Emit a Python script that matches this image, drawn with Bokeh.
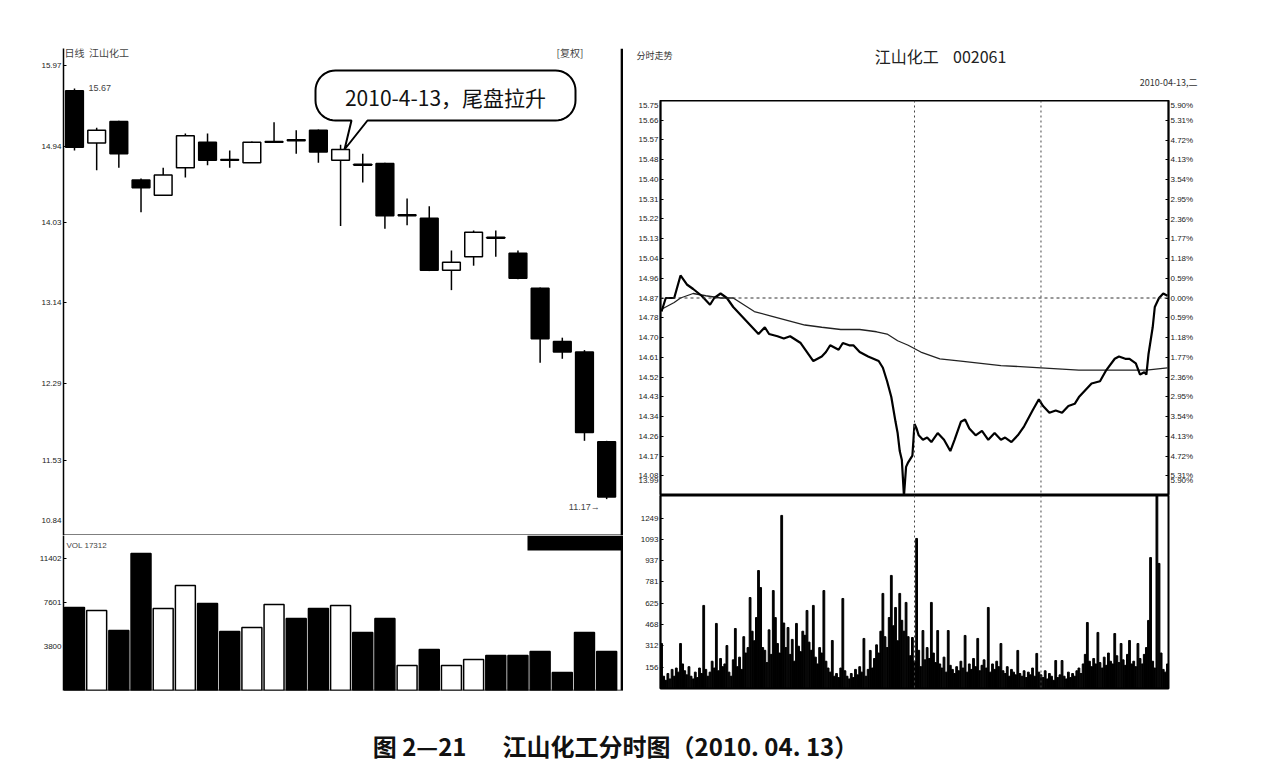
import numpy as np
from bokeh.plotting import figure
from bokeh.layouts import column, row
from bokeh.models import (Range1d, FixedTicker, NumeralTickFormatter, LinearAxis, Span,
                          Label, BoxAnnotation, CustomJSTickFormatter)
from bokeh.embed import file_html
from bokeh.resources import INLINE

# ---------------- data: daily candles (江山化工) ----------------
day_idx = list(range(1, 26))
opens  = [15.64, 14.98, 15.25, 14.53, 14.35, 14.68, 14.99, 14.78, 14.74, 14.99, 15.02, 15.14, 14.77,
          14.72, 14.73, 14.11, 14.08, 13.49, 13.64, 13.86, 13.68, 13.29, 12.72, 12.61, 11.71]
highs  = [15.67, 15.17, 15.26, 14.55, 14.68, 15.10, 15.10, 14.89, 15.00, 15.24, 15.14, 15.15, 14.96,
          14.85, 14.74, 14.31, 14.22, 13.71, 13.94, 13.94, 13.71, 13.30, 12.76, 12.63, 11.72]
lows   = [14.89, 14.65, 14.68, 14.15, 14.35, 14.56, 14.71, 14.68, 14.74, 14.98, 14.85, 14.74, 13.99,
          14.50, 13.96, 14.00, 13.48, 13.27, 13.54, 13.64, 13.39, 12.50, 12.54, 11.72, 11.17]
closes = [14.93, 15.14, 14.85, 14.44, 14.59, 15.07, 14.77, 14.77, 14.99, 15.00, 15.01, 14.87, 14.90,
          14.71, 14.11, 14.12, 13.49, 13.58, 13.92, 13.85, 13.40, 12.75, 12.61, 11.80, 11.19]
day_vol = [7169, 6910, 5183, 11834, 7083, 9070, 7515, 5096, 5442, 7429, 6219, 7083, 7342,
           5010, 6219, 2160, 3542, 2160, 2678, 3023, 3023, 3369, 1555, 5010, 3369]
day_price_ticks = [15.97, 14.94, 14.03, 13.14, 12.29, 11.53, 10.84]
day_vol_ticks = [3800, 7601, 11402]

# ---------------- data: intraday 2010-04-13 ----------------
prev_close = 14.87
min_t = [0, 2, 6, 9, 12, 15, 19, 23, 25, 28, 31, 34, 38, 42, 46, 49, 51, 55, 58, 61,
         66, 69, 72, 76, 78, 80, 84, 86, 89, 91, 94, 98, 103, 105, 107, 109, 111, 112, 113, 114,
         115, 116, 117, 119, 120, 121, 122, 124, 126, 128, 131, 134, 137, 139, 142, 144, 146, 149, 152, 155,
         158, 161, 163, 166, 169, 172, 176, 179, 181, 184, 187, 190, 193, 196, 198, 201, 204, 208, 211, 215,
         217, 220, 222, 225, 227, 229, 230, 231, 232, 233, 234, 236, 238, 240]
min_price = [14.81, 14.87, 14.87, 14.97, 14.93, 14.91, 14.88, 14.84, 14.87, 14.89, 14.87, 14.83, 14.79, 14.75, 14.71,
             14.74, 14.71, 14.70, 14.69, 14.70, 14.67, 14.63, 14.59, 14.61, 14.63, 14.66, 14.64, 14.67, 14.66, 14.66,
             14.63, 14.61, 14.59, 14.56, 14.50, 14.43, 14.32, 14.27, 14.19, 14.15, 13.99, 14.12, 14.14, 14.17, 14.31,
             14.29, 14.26, 14.24, 14.25, 14.23, 14.27, 14.24, 14.19, 14.24, 14.32, 14.33, 14.29, 14.26, 14.28, 14.24,
             14.27, 14.24, 14.25, 14.23, 14.26, 14.30, 14.37, 14.42, 14.39, 14.36, 14.37, 14.36, 14.39, 14.40, 14.43,
             14.46, 14.49, 14.50, 14.55, 14.60, 14.61, 14.60, 14.60, 14.58, 14.53, 14.54, 14.53, 14.62, 14.68, 14.74,
             14.83, 14.87, 14.89, 14.88]
avg_t = [0, 6, 9, 15, 21, 28, 34, 44, 52, 60, 68, 76, 85, 94, 102, 107, 112, 117, 123, 132, 142, 161, 180,
         198, 217, 230, 240]
avg_price = [14.82, 14.85, 14.87, 14.89, 14.88, 14.87, 14.87, 14.81, 14.79, 14.77, 14.75, 14.74, 14.73, 14.73,
             14.72, 14.71, 14.68, 14.66, 14.63, 14.60, 14.59, 14.57, 14.56, 14.55, 14.55, 14.55, 14.56]
min_vol = [330, 90, 60, 110, 70, 140, 90, 150, 120, 330,
           180, 130, 100, 160, 90, 70, 120, 80, 150, 110,
           609, 140, 90, 120, 200, 150, 477, 130, 220, 160,
           180, 315, 120, 90, 210, 440, 160, 230, 140, 380,
           260, 300, 667, 420, 350, 520, 865, 740, 300, 280,
           190, 430, 250, 718, 520, 330, 260, 1269, 480, 300,
           447, 250, 360, 200, 477, 310, 270, 420, 390, 572,
           340, 280, 609, 230, 180, 300, 260, 718, 200, 150,
           120, 352, 90, 110, 80, 150, 660, 130, 90, 70,
           110, 80, 140, 100, 160, 120, 367, 90, 140, 279,
           150, 220, 320, 260, 420, 697, 380, 300, 520, 829,
           460, 594, 350, 697, 500, 420, 631, 380, 240, 374,
           200, 1100, 280, 160, 425, 210, 300, 220, 631, 260,
           190, 425, 180, 150, 230, 120, 425, 170, 140, 110,
           160, 130, 200, 150, 389, 120, 180, 140, 220, 160,
           367, 130, 170, 210, 150, 594, 120, 180, 140, 200,
           160, 330, 130, 110, 160, 90, 140, 120, 100, 279,
           110, 90, 130, 80, 120, 100, 150, 90, 257, 120,
           100, 80, 130, 70, 110, 90, 60, 205, 80, 100,
           205, 90, 70, 120, 80, 110, 90, 130, 150, 110,
           180, 250, 484, 200, 160, 220, 180, 411, 190, 150,
           230, 170, 260, 200, 180, 403, 240, 190, 330, 210,
           170, 250, 352, 180, 200, 160, 330, 220, 180, 250,
           300, 499, 960, 200, 150, 1415, 917, 260, 140, 120,
           180]
price_ticks = [15.747, 15.659, 15.572, 15.484, 15.396, 15.309, 15.221, 15.133, 15.045, 14.958, 14.870,
               14.782, 14.695, 14.607, 14.519, 14.432, 14.344, 14.256, 14.168, 14.081, 13.993]
pct_ticks = [5.90, 5.31, 4.72, 4.13, 3.54, 2.95, 2.36, 1.77, 1.18, 0.59, 0.0,
             -0.59, -1.18, -1.77, -2.36, -2.95, -3.54, -4.13, -4.72, -5.31, -5.90]
min_vol_ticks = [156, 312, 468, 625, 781, 937, 1093, 1249]
session_marks = [120, 180]

# ---------------- styling helpers ----------------
TICK_FONT = "Liberation Sans"
CJK = "Noto Sans CJK SC"
NB = "\u00a0"


def style_axis(ax, ticks, fmt=None, size="8px"):
    ax.ticker = FixedTicker(ticks=ticks)
    if fmt is not None:
        ax.formatter = fmt
    ax.major_label_text_font_size = size
    ax.major_label_text_font = TICK_FONT
    ax.major_label_text_color = "#222222"
    ax.major_label_standoff = 2
    ax.axis_line_width = 1.5
    ax.axis_line_color = "black"
    ax.major_tick_in = 3
    ax.major_tick_out = 0
    ax.minor_tick_line_color = None


def base_fig(**kw):
    p = figure(toolbar_location=None, output_backend="svg", x_axis_location=None, **kw)
    p.grid.visible = False
    p.background_fill_color = "white"
    p.border_fill_color = "white"
    return p


def blank_fig(w, h):
    p = figure(width=w, height=h, x_range=Range1d(0, 1), y_range=Range1d(0, 1),
               toolbar_location=None, output_backend="svg", x_axis_location=None,
               y_axis_location=None, min_border=0)
    p.outline_line_color = None
    p.grid.visible = False
    if "frame_align" in p.properties():
        p.frame_align = False
    return p


# the lowest tick sits on the panel edge: lift its label by adding an empty second line
def edge_fmt(limit, body, cmp="<="):
    return CustomJSTickFormatter(
        code="var s = %s; return (tick %s %r) ? s + '\\n ' : s;" % (body, cmp, limit))

# ---------------- left: daily candles ----------------
X0, X1 = 0.504, 25.76
YB, YT = 10.84, 16.195
FW, FH = 560, 487

p1 = base_fig(width=623, height=535, x_range=Range1d(X0, X1), y_range=Range1d(YB, YT),
              y_axis_type="log", min_border_left=63, min_border_right=0,
              min_border_top=48, min_border_bottom=0)
p1.outline_line_color = None
style_axis(p1.yaxis[0], day_price_ticks, edge_fmt(YB + 0.005, "tick.toFixed(2)"))

up = [c >= o for o, c in zip(opens, closes)]
body_fill = ["white" if u else "black" for u in up]
p1.segment(x0=day_idx, y0=lows, x1=day_idx, y1=highs, line_color="black", line_width=1.5)
p1.vbar(x=day_idx, width=0.8, top=[max(o, c) for o, c in zip(opens, closes)],
        bottom=[min(o, c) for o, c in zip(opens, closes)],
        fill_color=body_fill, line_color="black", line_width=1.5)

p1.add_layout(Span(location=25.70, dimension="height", line_color="black", line_width=3))
p1.add_layout(Span(location=YB, dimension="width", line_color="black", line_width=2))

PXX = FW / (X1 - X0)
K = np.log(YT / YB) / FH


def to_data(xw, yw):
    xw = np.asarray(xw, dtype=float)
    yw = np.asarray(yw, dtype=float)
    return X0 + (xw - 63) / PXX, YT * np.exp(-(yw - 48) * K)


# speech bubble pointing to the 2010-04-13 candle
L, R, T, B, r = 315, 575, 70, 120, 20
pts = []
def arc(cx, cy, a0, a1):
    a = np.linspace(a0, a1, 12)
    return list(zip(cx + r * np.cos(a), cy + r * np.sin(a)))
pts += arc(R - r, T + r, -np.pi / 2, 0)
pts += arc(R - r, B - r, 0, np.pi / 2)
pts += [(367, B), (344, 149), (351, B)]
pts += arc(L + r, B - r, np.pi / 2, np.pi)
pts += arc(L + r, T + r, np.pi, 1.5 * np.pi)
bx, by = to_data([q[0] for q in pts], [q[1] for q in pts])
p1.patch(list(bx), list(by), fill_color="white", line_color="black", line_width=2)
tx, ty = to_data([445], [96])
p1.add_layout(Label(x=float(tx[0]), y=float(ty[0]), text="2010-4-13，尾盘拉升",
                    text_align="center", text_baseline="middle", text_font=CJK,
                    text_font_size="21px", text_color="#111111"))

p1.add_layout(Label(x=day_idx[0], y=highs[0], x_offset=14, text=f"{highs[0]:.2f}",
                    text_baseline="middle", text_font=TICK_FONT, text_font_size="9px"))
p1.add_layout(Label(x=day_idx[-1], y=lows[-1], x_offset=-7, y_offset=-8, text=f"{lows[-1]:.2f}→",
                    text_align="right", text_baseline="middle", text_font=TICK_FONT,
                    text_font_size="9px"))
p1.add_layout(Label(x=1, y=483, x_units="screen", y_units="screen", text=f"日线{NB}{NB}江山化工",
                    text_baseline="middle", text_font=CJK, text_font_size="10px"))
p1.add_layout(Label(x=493, y=483, x_units="screen", y_units="screen", text="[复权]",
                    text_baseline="middle", text_font=CJK, text_font_size="10px"))

# ---------------- left: daily volume ----------------
VT = 13389
p2 = base_fig(width=623, height=173, x_range=p1.x_range, y_range=Range1d(0, VT),
              min_border_left=63, min_border_right=0, min_border_top=0, min_border_bottom=18)
p2.outline_line_color = None
style_axis(p2.yaxis[0], day_vol_ticks, NumeralTickFormatter(format="0"))
p2.vbar(x=day_idx, width=0.9, top=day_vol, bottom=0, fill_color=body_fill,
        line_color="black", line_width=1.5)
p2.add_layout(Span(location=25.70, dimension="height", line_color="black", line_width=3))
p2.add_layout(Span(location=0, dimension="width", line_color="black", line_width=1.5))
p2.add_layout(BoxAnnotation(left=21.43, right=X1, bottom=12093, top=VT, fill_color="black",
                            fill_alpha=1.0, line_color=None))
p2.add_layout(Label(x=3, y=145, x_units="screen", y_units="screen", text="VOL 17312",
                    text_baseline="middle", text_font=TICK_FONT, text_font_size="8px"))

# ---------------- right: header ----------------
p3h = blank_fig(649, 100)
p3h.add_layout(Label(x=13, y=45, x_units="screen", y_units="screen", text="分时走势",
                     text_baseline="middle", text_font=CJK, text_font_size="9px",
                     text_color="#333333"))
p3h.add_layout(Label(x=317, y=45, x_units="screen", y_units="screen",
                     text=f"江山化工{NB}{NB}{NB}{NB}002061",
                     text_align="center", text_baseline="middle", text_font=CJK,
                     text_font_size="16px", text_color="#222222"))
p3h.add_layout(Label(x=574, y=18, x_units="screen", y_units="screen", text="2010-04-13,二",
                     text_align="right", text_baseline="middle", text_font=CJK,
                     text_font_size="9px", text_color="#333333"))

# ---------------- right: intraday price ----------------
PB, PT = 13.9927, 15.7473
p3 = base_fig(width=649, height=395, x_range=Range1d(-0.5, 240.5), y_range=Range1d(PB, PT),
              min_border_left=37, min_border_right=104, min_border_top=0, min_border_bottom=0)
p3.outline_line_color = "black"
p3.outline_line_width = 2
style_axis(p3.yaxis[0], price_ticks, edge_fmt(price_ticks[-1] + 0.002, "tick.toFixed(2)", "<"))
p3.extra_y_ranges = {"pct": Range1d(-5.90, 5.90)}
pct_axis = LinearAxis(y_range_name="pct")
style_axis(pct_axis, pct_ticks, edge_fmt(-5.895, "Math.abs(tick).toFixed(2) + '%'"))
p3.add_layout(pct_axis, "right")

for m in session_marks:
    p3.add_layout(Span(location=m, dimension="height", line_color="#444444",
                       line_width=1, line_dash="2 3"))
p3.add_layout(Span(location=prev_close, dimension="width", line_color="#333333",
                   line_width=1, line_dash="3 3"))
p3.line(avg_t, avg_price, line_color="#222222", line_width=1.3)
p3.line(min_t, min_price, line_color="black", line_width=2.2)

# ---------------- right: intraday volume ----------------
p4 = base_fig(width=649, height=213, x_range=p3.x_range, y_range=Range1d(0, 1415),
              min_border_left=37, min_border_right=104, min_border_top=0, min_border_bottom=20)
p4.outline_line_color = "black"
p4.outline_line_width = 2
style_axis(p4.yaxis[0], min_vol_ticks, NumeralTickFormatter(format="0"))
for m in session_marks:
    p4.add_layout(Span(location=m, dimension="height", line_color="#444444",
                       line_width=1, line_dash="2 3"))
p4.vbar(x=list(range(len(min_vol))), width=0.85, top=min_vol, bottom=0, color="black")

# ---------------- caption ----------------
p5 = blank_fig(1272, 58)
p5.add_layout(Label(x=615, y=21, x_units="screen", y_units="screen",
                    text="图 2—21\u2003\u2002江山化工分时图（2010. 04. 13）", text_align="center",
                    text_baseline="middle", text_font=CJK, text_font_size="24px",
                    text_font_style="bold", text_color="#111111"))

layout = column(row(column(p1, p2), column(p3h, p3, p4)), p5)
open("out.html", "w").write(file_html(layout, INLINE))
